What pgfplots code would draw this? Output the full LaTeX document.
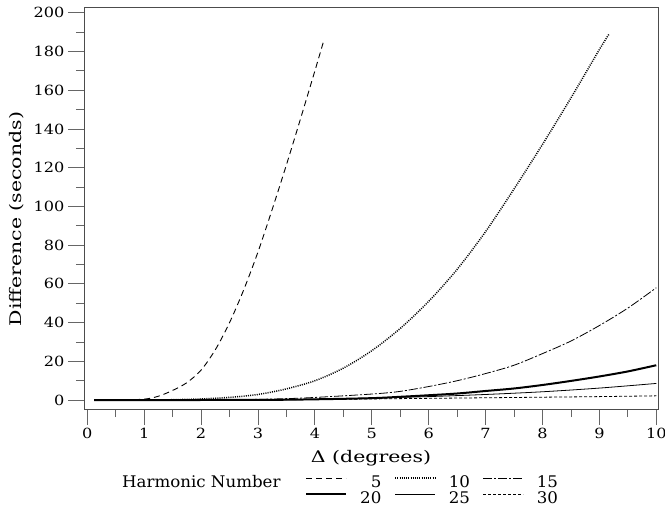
\documentclass[border=0pt]{standalone}
\usepackage{fontspec}
\setmainfont{DejaVu Serif}
\newfontfamily\tickfont{DejaVu Serif}[FakeStretch=1.15]
\newfontfamily\labfont{DejaVu Serif}[FakeStretch=1.28]
\newfontfamily\legfont{DejaVu Serif}[FakeStretch=1.04]
\usepackage{pgfplots}
\pgfplotsset{compat=1.18}

\pgfplotstableread{
x y
0.12 0
0.5 0
1.0 0.5
1.25 2
1.5 5
1.75 9
2.0 15.5
2.25 26
2.5 40
2.75 57
3.0 76.5
3.25 98.5
3.5 121.5
3.75 145.5
4.0 170
4.15 185
}\hfive
\pgfplotstableread{
x y
0.12 0
1.0 0
1.5 0.2
2.0 0.6
2.5 1.4
3.0 2.9
3.5 5.8
4.0 10
4.5 16.5
5.0 25.5
5.5 37
6.0 51
6.5 67.5
7.0 87
7.5 109
8.0 132
8.5 156
9.0 181
9.17 189
}\hten
\pgfplotstableread{
x y
0.12 0
2.0 0.1
3.0 0.4
3.74 1
4.5 2.2
5.13 3.4
5.5 4.5
6.0 7
6.5 10
7.0 13.7
7.5 18
8.0 24
8.5 30.5
9.0 38.5
9.5 47.5
10.0 58
}\hfifteen
\pgfplotstableread{
x y
0.12 0
3.0 0.1
4.0 0.4
5.0 1.0
5.5 1.7
6.0 2.5
6.5 3.4
7.0 4.7
7.5 6
8.0 7.8
8.5 9.9
9.0 12.2
9.5 14.8
10.0 18
}\htwenty
\pgfplotstableread{
x y
0.12 0
3.0 0.1
4.0 0.4
5.0 1.0
5.5 1.4
6.0 1.8
7.0 2.9
8.0 4.3
9.0 6.2
10.0 8.6
}\htwentyfive
\pgfplotstableread{
x y
0.12 0
4.0 0.3
5.0 0.6
6.0 0.9
7.0 1.2
8.0 1.5
9.0 1.8
10.0 2.2
}\hthirty

\begin{document}
\begin{tikzpicture}
\useasboundingbox (-84pt,-98pt) rectangle (581pt,409pt);
\begin{axis}[
  at={(0pt,0pt)}, anchor=south west,
  scale only axis, width=574pt, height=401.7pt,
  clip mode=individual,
  xmin=-0.058, xmax=10.03, ymin=-4.6, ymax=202.8,
  xtick={0,1,...,10}, minor xtick={0.5,1.5,...,9.5},
  ytick={0,20,...,200}, minor ytick={10,30,...,190},
  xtick pos=left, ytick pos=left,
  tick align=outside, major tick length=16pt, minor tick length=8pt,
  tick style={black!60, line width=0.8pt},
  axis line style={black!70, line width=0.9pt},
  /pgf/number format/assume math mode=true,
  ticklabel style={font=\tickfont\fontsize{14}{16}\selectfont},
  label style={font=\labfont\fontsize{16}{18}\selectfont},
  xlabel={Δ (degrees)},
  ylabel={Difference (seconds)},
  xlabel style={at={(axis description cs:0.5,-0.122)}, anchor=center},
  ylabel style={at={(axis description cs:-0.1167,0.473)}, anchor=center},
  legend columns=3,
  legend cell align=right,
  legend image code/.code={\draw[#1] (0pt,4pt) -- (40pt,4pt);},
  legend style={draw=none, fill=none, inner sep=0pt,
    at={(axis description cs:0.385,-0.1655)}, anchor=north west,
    font=\legfont\fontsize{16}{18}\selectfont, row sep=3pt,
    nodes={text height=11pt, text depth=0pt, inner sep=1pt},
    /tikz/every odd column/.append style={column sep=12pt},
    /tikz/every even column/.append style={column sep=12pt}},
]
\addplot[black, line width=0.9pt, dash pattern=on 6pt off 4pt, smooth] table[x=x,y=y] {\hfive};
\addlegendentry{5}
\addplot[black, line width=1.5pt, dash pattern=on 1pt off 1.2pt, smooth] table[x=x,y=y] {\hten};
\addlegendentry{10}
\addplot[black, line width=0.8pt, dash pattern=on 9pt off 2pt on 2pt off 2pt, smooth] table[x=x,y=y] {\hfifteen};
\addlegendentry{15}
\addplot[black, line width=2pt, smooth] table[x=x,y=y] {\htwenty};
\addlegendentry{20}
\addplot[black, line width=0.8pt, smooth] table[x=x,y=y] {\htwentyfive};
\addlegendentry{25}
\addplot[black, line width=0.8pt, dash pattern=on 3pt off 2pt, smooth] table[x=x,y=y] {\hthirty};
\addlegendentry{30}
\node[anchor=base west, font=\legfont\fontsize{16}{18}\selectfont, inner sep=0pt] at (rel axis cs:0.0662,-0.196) {Harmonic Number};
\end{axis}
\end{tikzpicture}
\end{document}
